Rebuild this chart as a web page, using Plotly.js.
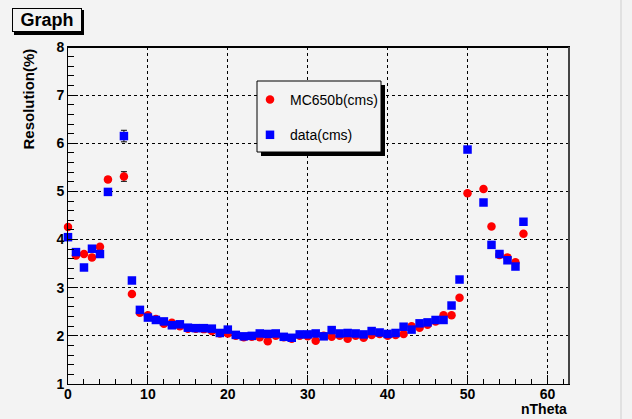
<!DOCTYPE html>
<html>
<head>
<meta charset="utf-8">
<script src="https://cdn.plot.ly/plotly-3.0.1.min.js"></script>
<style>html,body{margin:0;padding:0;background:#f3f3f3;}#chart{width:632px;height:419px;}</style>
</head>
<body>
<div id="chart"></div>
<script>
// nTheta bins (6 and 51 have no entry)
var nTheta = [0,1,2,3,4,5,7,8,9,10,11,12,13,14,15,16,17,18,19,20,21,22,23,24,25,26,27,28,29,30,31,32,33,34,35,36,37,38,39,40,41,42,43,44,45,46,47,48,49,50,52,53,54,55,56,57];
var mcRes = [4.26,3.67,3.70,3.63,3.85,5.25,5.31,2.87,2.48,2.43,2.35,2.25,2.27,2.20,2.15,2.15,2.14,2.10,2.05,2.05,2.00,1.97,1.98,1.97,1.89,2.00,1.97,1.94,2.00,1.99,1.90,2.00,1.98,2.00,1.94,2.00,1.96,2.02,2.04,2.00,2.02,2.04,2.20,2.17,2.23,2.30,2.43,2.43,2.79,4.96,5.05,4.27,3.68,3.63,3.53,4.12];
var mcErr = [0.04,0.03,0.03,0.03,0.03,0.05,0.10,0.03,0.02,0.02,0.02,0.02,0.02,0.02,0.02,0.02,0.02,0.02,0.02,0.02,0.02,0.02,0.02,0.02,0.02,0.02,0.02,0.02,0.02,0.02,0.02,0.02,0.02,0.02,0.02,0.02,0.02,0.02,0.02,0.02,0.02,0.02,0.02,0.02,0.02,0.02,0.02,0.02,0.03,0.04,0.04,0.03,0.03,0.03,0.03,0.04];
var dataRes = [4.05,3.74,3.42,3.81,3.70,4.99,6.15,3.15,2.54,2.38,2.33,2.30,2.22,2.24,2.17,2.16,2.16,2.15,2.06,2.13,2.02,1.99,2.00,2.05,2.04,2.05,1.98,1.96,2.03,2.03,2.05,1.99,2.12,2.05,2.06,2.05,2.03,2.10,2.07,2.04,2.06,2.19,2.13,2.26,2.28,2.33,2.33,2.63,3.17,5.87,4.77,3.89,3.70,3.57,3.44,4.37];
var dataErr = [0.04,0.03,0.03,0.03,0.03,0.05,0.12,0.03,0.02,0.02,0.02,0.02,0.02,0.02,0.02,0.02,0.02,0.02,0.02,0.02,0.02,0.02,0.02,0.02,0.02,0.02,0.02,0.02,0.02,0.02,0.02,0.02,0.02,0.02,0.02,0.02,0.02,0.02,0.02,0.02,0.02,0.02,0.02,0.02,0.02,0.02,0.02,0.02,0.03,0.05,0.04,0.03,0.03,0.03,0.03,0.04];
var seriesNames = ["MC650b(cms)", "data(cms)"];

var BG = '#f3f3f3';
var W = 632, H = 419, L = 68, R = 63, T = 47, B = 35;
var pw = W - L - R, ph = H - T - B;
function px(x){ return (x - L) / pw; }
function py(y){ return 1 - (y - T) / ph; }

var traces = [
  {x: nTheta, y: mcRes, name: seriesNames[0], type: 'scatter', mode: 'markers', cliponaxis: false,
   marker: {color: '#ff0000', size: 8.5, symbol: 'circle'},
   error_y: {type: 'data', array: mcErr, visible: true, color: '#000000', thickness: 1, width: 3},
   legendgroup: 'a'},
  {x: nTheta, y: dataRes, name: seriesNames[1], type: 'scatter', mode: 'markers', cliponaxis: false,
   marker: {color: '#0000ff', size: 8.5, symbol: 'square'},
   error_y: {type: 'data', array: dataErr, visible: true, color: '#000000', thickness: 1, width: 3},
   legendgroup: 'b'}
];

var tickFont = {family: 'Liberation Sans, Arial, sans-serif', size: 14, color: '#000', weight: 'bold'};

var layout = {
  width: W, height: H,
  margin: {l: L, r: R, t: T, b: B},
  paper_bgcolor: BG, plot_bgcolor: BG,
  font: {family: 'Liberation Sans, Arial, sans-serif', color: '#000'},
  showlegend: true,
  legend: {
    x: px(250), y: py(84), xanchor: 'left', yanchor: 'top',
    bgcolor: 'rgba(0,0,0,0)', borderwidth: 0,
    font: {size: 14, family: 'Liberation Sans, Arial, sans-serif', color: '#000'},
    tracegroupgap: 14, traceorder: 'grouped', itemsizing: 'trace'
  },
  xaxis: {
    range: [0, 62.7], dtick: 10, tick0: 0,
    ticks: 'inside', ticklen: 9, tickcolor: '#000', tickwidth: 1, ticklabelstandoff: -3,
    minor: {dtick: 2, ticks: 'inside', ticklen: 5, tickcolor: '#000', showgrid: false},
    showgrid: true, gridcolor: '#000', griddash: 'dot', gridwidth: 1,
    zeroline: false, showline: true, linecolor: '#000', linewidth: 1, mirror: true,
    tickfont: tickFont
  },
  yaxis: {
    range: [1, 8], dtick: 1, tick0: 0,
    ticks: 'inside', ticklen: 10, tickcolor: '#000', tickwidth: 1,
    minor: {dtick: 0.2, ticks: 'inside', ticklen: 6, tickcolor: '#000', showgrid: false},
    showgrid: true, gridcolor: '#000', griddash: 'dot', gridwidth: 1,
    zeroline: false, showline: true, linecolor: '#000', linewidth: 1, mirror: true,
    tickfont: tickFont
  },
  shapes: [
    {type: 'rect', xref: 'paper', yref: 'paper', x0: px(261), x1: px(385), y0: py(156), y1: py(85), fillcolor: '#000', line: {width: 0}, layer: 'above'},
    {type: 'rect', xref: 'paper', yref: 'paper', x0: px(257), x1: px(381), y0: py(152), y1: py(81), fillcolor: BG, line: {color: '#000', width: 1}, layer: 'above'},
    {type: 'rect', xref: 'paper', yref: 'paper', x0: px(14), x1: px(84), y0: py(35), y1: py(10), fillcolor: '#000', line: {width: 0}, layer: 'above'},
    {type: 'line', xref: 'paper', yref: 'paper', x0: 0, x1: 1, y0: 1, y1: 1, line: {color: '#000', width: 2}, layer: 'above'},
    {type: 'line', xref: 'paper', yref: 'paper', x0: 1, x1: 1, y0: 0, y1: 1, line: {color: '#444', width: 2}, layer: 'above'},
    {type: 'line', xref: 'paper', yref: 'paper', x0: px(621), x1: px(621), y0: py(0), y1: py(419), line: {color: '#cfcfcf', width: 1}, layer: 'above'}
  ],
  annotations: [
    {text: 'Graph', xref: 'paper', yref: 'paper', x: px(12), y: py(8), xanchor: 'left', yanchor: 'top',
     showarrow: false, width: 68, height: 22, align: 'center', valign: 'middle',
     bgcolor: BG, bordercolor: '#000', borderwidth: 1, borderpad: 0,
     font: {size: 18, weight: 'bold', color: '#000'}},
    {text: 'Resolution(%)', xref: 'paper', yref: 'paper', x: px(28), y: 1, xanchor: 'center', yanchor: 'top',
     textangle: -90, showarrow: false, font: {size: 15, weight: 'bold', color: '#000'}},
    {text: 'nTheta', xref: 'paper', yref: 'paper', x: 1, y: py(419), xanchor: 'right', yanchor: 'bottom',
     showarrow: false, font: {size: 14, weight: 'bold', color: '#000'}}
  ]
};

Plotly.newPlot('chart', traces, layout, {displayModeBar: false, staticPlot: true});
</script>
</body>
</html>
